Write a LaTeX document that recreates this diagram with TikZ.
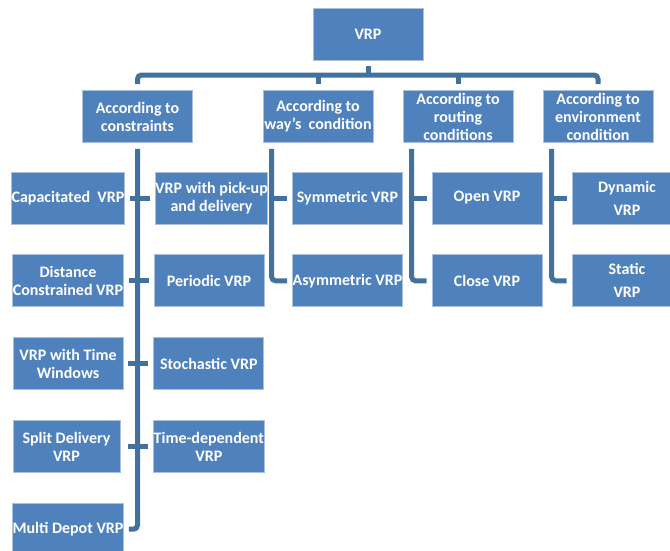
\documentclass[tikz,border=0pt]{standalone}
\usepackage{fontspec}
\setmainfont{Carlito}
\usetikzlibrary{positioning}
\definecolor{boxblue}{HTML}{4F81BD}
\definecolor{boxedge}{HTML}{A9C1DE}
\definecolor{linkblue}{HTML}{41719C}
\tikzset{
    box/.style={rectangle, draw=boxedge, fill=boxblue, line width=0.8pt, minimum width=110pt, minimum height=52pt, inner sep=0pt, align=center, text=white, font=\fontsize{16}{18}\selectfont\bfseries},
    link/.style={draw=linkblue, line width=5pt},
    elbow/.style={link, rounded corners=4pt}
}
\begin{document}
\begin{tikzpicture}[x=1pt, y=-1pt]
\useasboundingbox (0,0) rectangle (670,550);
\clip (0,0) rectangle (670,550);

% Root and the four kinds
\node[box] (vrp) at (368,34) {VRP};
\node[box] (cons) at (137.5,116.5) {According to\\constraints};
\node[box] (way) at (318,116.5) {According to\\way's~ condition};
\node[box] (rout) at (458,116.5) {According to\\routing\\conditions};
\node[box] (env) at (598,116.5) {According to\\environment\\condition};

% Bus from the root
\coordinate (bus) at (368,75);
\draw[link] ([yshift=-6pt]vrp.south) -- (bus);
\draw[elbow] ([yshift=6pt]cons.north) |- (bus) -| ([yshift=6pt]env.north);
\draw[link] ([yshift=6pt]way.north) -- (way.north |- bus);
\draw[link] ([yshift=6pt]rout.north) -- (rout.north |- bus);

% According to constraints: two columns
\node[box] (cap) at (68,198) {Capacitated~ VRP};
\node[box, below=30pt of cap] (dist) {Distance\\Constrained VRP};
\node[box, below=30pt of dist] (tw) {VRP with Time\\Windows};
\node[box, below=30pt of tw, minimum width=107pt, xshift=-1.5pt] (split) {Split Delivery\\VRP};
\node[box, below=30pt of split, xshift=1.5pt] (mdep) {Multi Depot VRP};
\node[box, right=30pt of cap] (pick) {VRP with pick-up\\and delivery};
\node[box, right=30pt of dist] (peri) {Periodic VRP};
\node[box, right=30pt of tw] (stoc) {Stochastic VRP};
\node[box, below=30pt of stoc] (tdep) {Time-dependent\\VRP};

\coordinate (ctop) at ([yshift=-6pt]cons.south);
\draw[elbow] (ctop) |- ([xshift=5pt]mdep.east);
\draw[link] ([xshift=5pt]cap.east) -- ([xshift=-5pt]pick.west);
\draw[link] ([xshift=5pt]dist.east) -- ([xshift=-5pt]peri.west);
\draw[link] ([xshift=5pt]tw.east) -- ([xshift=-5pt]stoc.west);
\draw[link] ([xshift=8pt]split.east) -- ([xshift=-5pt]tdep.west);

% According to way's condition
\node[box] (sym) at (347.5,198) {Symmetric VRP};
\node[box, below=30pt of sym] (asym) {Asymmetric VRP};
\coordinate (wtop) at ([xshift=9pt, yshift=-6pt]way.south west);
\draw[elbow] (wtop) |- ([xshift=-5pt]asym.west);
\draw[link] (wtop |- sym.west) -- ([xshift=-5pt]sym.west);

% According to routing conditions
\node[box] (open) at (487,198) {Open VRP};
\node[box, below=30pt of open] (close) {Close VRP};
\coordinate (rtop) at ([xshift=9pt, yshift=-6pt]rout.south west);
\draw[elbow] (rtop) |- ([xshift=-5pt]close.west);
\draw[link] (rtop |- open.west) -- ([xshift=-5pt]open.west);

% According to environment condition
\node[box] (dyn) at (627,198) {Dynamic\\[5pt]VRP};
\node[box, below=30pt of dyn] (stat) {Static\\[5pt]VRP};
\coordinate (etop) at ([xshift=9pt, yshift=-6pt]env.south west);
\draw[elbow] (etop) |- ([xshift=-5pt]stat.west);
\draw[link] (etop |- dyn.west) -- ([xshift=-5pt]dyn.west);
\end{tikzpicture}
\end{document}
